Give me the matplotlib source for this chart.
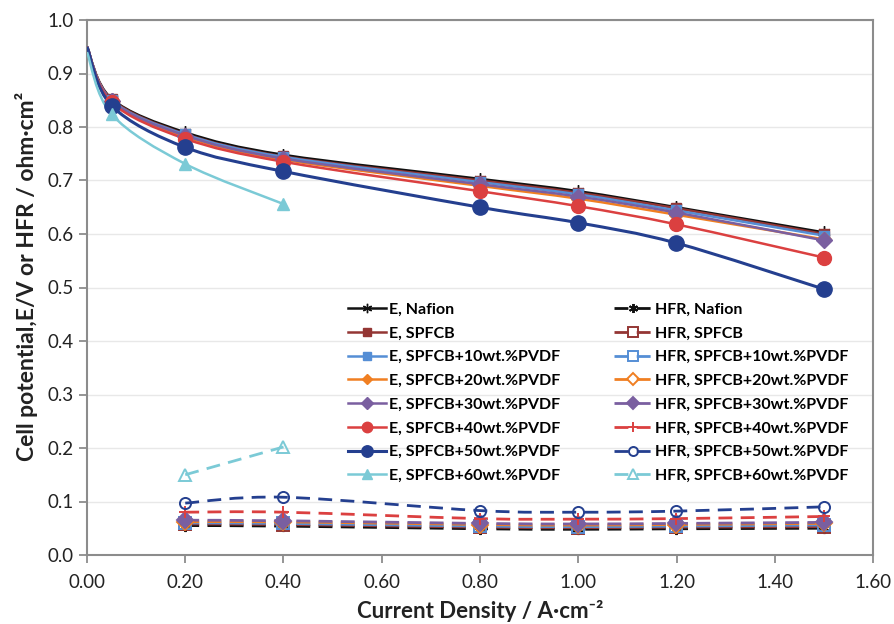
import matplotlib
matplotlib.use("Agg")
import matplotlib.pyplot as plt
import numpy as np
from matplotlib.path import Path
from matplotlib.patches import PathPatch
from matplotlib.lines import Line2D

plt.rcParams['font.family'] = ['Lato', 'DejaVu Sans']

# current density (A/cm2)
x_E = [0.0, 0.05, 0.2, 0.4, 0.8, 1.0, 1.2, 1.5]
x_E60 = [0.0, 0.05, 0.2, 0.4]
x_H = [0.2, 0.4, 0.8, 1.0, 1.2, 1.5]
x_H60 = [0.2, 0.4]

names = ["Nafion", "SPFCB", "SPFCB+10wt.%PVDF", "SPFCB+20wt.%PVDF",
         "SPFCB+30wt.%PVDF", "SPFCB+40wt.%PVDF", "SPFCB+50wt.%PVDF",
         "SPFCB+60wt.%PVDF"]

# cell potential E (V)
E_nafion = [0.950, 0.853, 0.790, 0.748, 0.703, 0.680, 0.650, 0.603]
E_spfcb  = [0.950, 0.852, 0.787, 0.745, 0.700, 0.677, 0.648, 0.600]
E_pv10   = [0.950, 0.850, 0.786, 0.744, 0.697, 0.674, 0.644, 0.597]
E_pv20   = [0.950, 0.848, 0.782, 0.739, 0.690, 0.666, 0.636, 0.590]
E_pv30   = [0.950, 0.849, 0.784, 0.741, 0.693, 0.670, 0.640, 0.588]
E_pv40   = [0.950, 0.846, 0.778, 0.735, 0.680, 0.652, 0.618, 0.556]
E_pv50   = [0.950, 0.840, 0.762, 0.717, 0.650, 0.621, 0.583, 0.497]
E_pv60   = [0.940, 0.824, 0.731, 0.656]

# high frequency resistance (ohm cm2)
H_nafion = [0.055, 0.054, 0.049, 0.048, 0.049, 0.050]
H_spfcb  = [0.058, 0.057, 0.052, 0.051, 0.052, 0.053]
H_pv10   = [0.060, 0.059, 0.054, 0.053, 0.054, 0.056]
H_pv20   = [0.062, 0.062, 0.057, 0.056, 0.057, 0.059]
H_pv30   = [0.065, 0.064, 0.059, 0.058, 0.059, 0.061]
H_pv40   = [0.080, 0.080, 0.068, 0.067, 0.068, 0.072]
H_pv50   = [0.097, 0.108, 0.083, 0.080, 0.082, 0.090]
H_pv60   = [0.150, 0.202]

colors = ["#111111", "#943634", "#558ED5", "#F07F22",
          "#7A5FA0", "#DB4040", "#243F8F", "#7BCAD6"]
e_markers = [(6, 2, 0), "s", "s", "D", "D", "o", "o", "^"]
e_msize = [9, 7, 7, 7, 8, 10, 11, 9]
h_markers = [(6, 2, 0), "s", "s", "D", "D", "+", "o", "^"]
h_open = [False, True, True, True, False, False, True, True]

E_sets = [E_nafion, E_spfcb, E_pv10, E_pv20, E_pv30, E_pv40, E_pv50, E_pv60]
H_sets = [H_nafion, H_spfcb, H_pv10, H_pv20, H_pv30, H_pv40, H_pv50, H_pv60]


def smooth_path(xs, ys):
    # cubic bezier through the points, spreadsheet-style smoothed line
    p = np.column_stack([xs, ys]).astype(float)
    n = len(p)
    verts = [p[0]]
    codes = [Path.MOVETO]
    for i in range(n - 1):
        p0 = p[i - 1] if i > 0 else p[i]
        p3 = p[i + 2] if i + 2 < n else p[i + 1]
        c1 = p[i] + (p[i + 1] - p0) / 6.0
        c2 = p[i + 1] - (p3 - p[i]) / 6.0
        verts += [c1, c2, p[i + 1]]
        codes += [Path.CURVE4] * 3
    return Path(verts, codes)


fig = plt.figure(figsize=(8.95, 6.24), dpi=100)
ax = fig.add_axes([87 / 895, 1 - 555 / 624, 786 / 895, 535 / 624])

e_handles, h_handles = [], []
for i in range(8):
    c = colors[i]
    xe = x_E60 if i == 7 else x_E
    ye = E_sets[i]
    lw = 2.2 if i == 6 else 1.8
    ax.add_patch(PathPatch(smooth_path(xe, ye), fill=False, edgecolor=c,
                           lw=lw, zorder=3 + i * 0.01))
    ax.plot(xe, ye, ls="none", marker=e_markers[i], ms=e_msize[i], color=c,
            mec=c, markevery=slice(1, None), zorder=4)
    e_handles.append(Line2D([], [], color=c, lw=lw, marker=e_markers[i],
                            ms=e_msize[i] * 0.75, mec=c))

    xh = x_H60 if i == 7 else x_H
    yh = H_sets[i]
    ax.add_patch(PathPatch(smooth_path(xh, yh), fill=False, edgecolor=c,
                           lw=2.0, ls=(0, (5, 3)), zorder=3))
    fc = "none" if h_open[i] else c
    ax.plot(xh, yh, ls="none", marker=h_markers[i], ms=8, mfc=fc, mec=c,
            mew=1.4, zorder=4)
    h_handles.append(Line2D([], [], color=c, lw=2.0, ls=(0, (5, 3)),
                            marker=h_markers[i], ms=6.5, mfc=fc, mec=c,
                            mew=1.4))

ax.set_xlim(0, 1.6)
ax.set_ylim(0, 1.0)
ax.set_xticks(np.arange(0, 1.61, 0.2))
ax.set_yticks(np.arange(0, 1.01, 0.1))
ax.set_xticklabels(["%.2f" % v for v in np.arange(0, 1.61, 0.2)])
ax.set_yticklabels(["%.1f" % v for v in np.arange(0, 1.01, 0.1)])
ax.tick_params(labelsize=13.5, color="#8C8C8C", width=1.3, length=6,
               labelcolor="#222222")
ax.tick_params(axis="x", pad=8)
ax.yaxis.grid(True, color="#E8E8E8", lw=1.0)
ax.set_axisbelow(True)
for s in ax.spines.values():
    s.set_color("#8C8C8C")
    s.set_linewidth(1.5)

ax.set_xlabel("Current Density / A·cm⁻²", fontsize=16, fontweight="bold",
              color="#222222", labelpad=6)
ax.set_ylabel("Cell potential,E/V or HFR / ohm·cm²", fontsize=16.5,
              fontweight="bold", color="#222222")
ax.yaxis.set_label_coords(-0.062, 0.52)

labels = ["E, " + n for n in names] + ["HFR, " + n for n in names]
ax.legend(e_handles + h_handles, labels, ncol=2, frameon=False,
          loc="upper left", bbox_to_anchor=(0.332, 0.472),
          prop={"weight": "bold", "size": 11.5}, handlelength=2.4,
          handletextpad=0.15, labelspacing=0.6, columnspacing=3.4,
          borderaxespad=0, borderpad=0)

fig.savefig("out.png", dpi=100)
